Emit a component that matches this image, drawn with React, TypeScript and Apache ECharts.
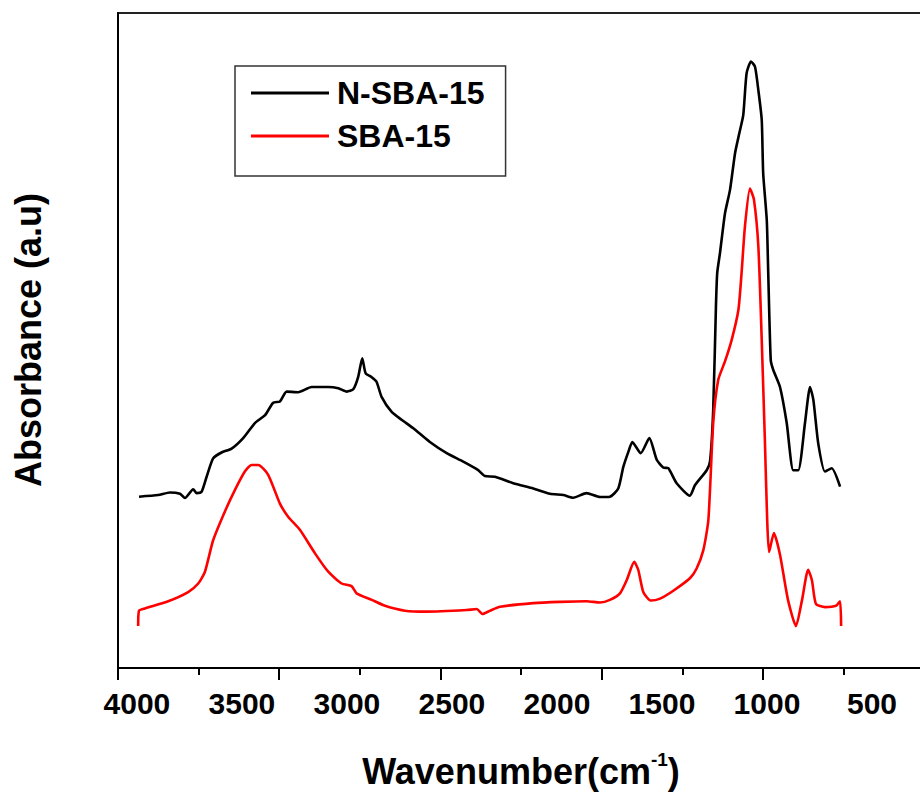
import React, { useEffect, useRef } from "react";
import * as echarts from "echarts";

// N-SBA-15 (black)
const nsbaWavenumber = [3990, 3899, 3843, 3795, 3771, 3732, 3716, 3692, 3668, 3637, 3597, 3549, 3494, 3438, 3390, 3351, 3319, 3287, 3232, 3168, 3089, 3041, 3001, 2970, 2946, 2927, 2911, 2882, 2859, 2835, 2787, 2740, 2684, 2605, 2525, 2446, 2375, 2343, 2295, 2208, 2113, 2033, 1970, 1922, 1859, 1795, 1748, 1708, 1684, 1660, 1641, 1601, 1560, 1525, 1494, 1470, 1430, 1367, 1343, 1287, 1271, 1256, 1243, 1237, 1224, 1200, 1176, 1152, 1132, 1113, 1097, 1076, 1057, 1041, 1025, 1018, 1001, 994, 982, 970, 938, 906, 875, 851, 819, 795, 779, 756, 724, 692, 652];
const nsbaAbsorbance = [26.15, 26.4, 26.8, 26.6, 25.95, 27.3, 26.7, 26.9, 29.2, 32.0, 32.9, 33.5, 35.1, 37.4, 38.6, 40.5, 40.7, 42.2, 42.1, 42.9, 42.9, 42.7, 42.2, 42.55, 44.5, 47.3, 45.0, 44.4, 43.7, 41.4, 39.1, 37.9, 36.6, 34.5, 32.8, 31.5, 30.2, 29.3, 29.2, 28.2, 27.4, 26.6, 26.4, 26.0, 26.7, 26.1, 26.15, 27.4, 30.7, 33.0, 34.5, 32.8, 35.1, 31.8, 30.6, 30.5, 28.2, 26.3, 27.9, 30.2, 31.6, 39.4, 55.2, 60.3, 63.3, 69.4, 73.0, 78.6, 81.6, 84.4, 90.8, 92.6, 91.8, 88.2, 83.7, 75.5, 68.4, 60.3, 47.0, 45.5, 42.9, 37.4, 30.2, 30.2, 37.4, 42.9, 40.9, 34.3, 30.0, 30.5, 27.7];

// SBA-15 (red)
const sbaWavenumber = [3994, 3990, 3962, 3851, 3756, 3708, 3676, 3637, 3581, 3533, 3486, 3454, 3422, 3375, 3319, 3280, 3224, 3152, 3089, 3025, 2978, 2954, 2882, 2819, 2724, 2620, 2430, 2382, 2354, 2319, 2271, 2113, 1986, 1859, 1795, 1748, 1700, 1668, 1632, 1613, 1589, 1554, 1509, 1446, 1367, 1335, 1303, 1279, 1256, 1232, 1200, 1168, 1136, 1121, 1105, 1081, 1062, 1041, 1025, 1010, 999, 990, 967, 938, 900, 862, 833, 804, 786, 767, 724, 671, 652, 647];
const sbaAbsorbance = [6.4, 8.75, 9.1, 10.2, 11.6, 12.9, 14.7, 19.5, 23.9, 27.2, 30.0, 31.0, 31.0, 29.5, 25.1, 23.1, 21.1, 17.5, 14.7, 12.9, 12.5, 11.4, 10.4, 9.5, 8.75, 8.6, 8.85, 9.0, 8.25, 8.75, 9.35, 9.9, 10.1, 10.2, 10.0, 10.4, 11.4, 13.4, 16.2, 15.0, 11.6, 10.3, 10.6, 11.8, 13.7, 15.2, 18.0, 22.6, 37.4, 44.0, 46.8, 50.1, 54.7, 60.3, 67.4, 73.2, 71.5, 64.3, 50.1, 34.8, 22.6, 17.7, 20.6, 17.3, 10.4, 6.4, 10.4, 15.0, 13.4, 9.8, 9.3, 9.5, 10.2, 6.4];

const xTickLabels = [4000, 3500, 3000, 2500, 2000, 1500, 1000, 500];
const seriesNames = ["N-SBA-15", "SBA-15"];

const FONT = '"Liberation Sans", Arial, Helvetica, sans-serif';

export default function App() {
  const ref = useRef<HTMLDivElement>(null);
  useEffect(() => {
    if (!ref.current) return;
    const chart = echarts.init(ref.current, null, { renderer: "svg" });
    const pairs = (xs: number[], ys: number[]) => xs.map((x, i) => [x, ys[i]]);
    chart.setOption({
      animation: false,
      backgroundColor: "#ffffff",
      grid: {
        left: 118,
        top: 13,
        width: 859,
        height: 655,
        show: true,
        borderColor: "#222",
        borderWidth: 2,
        backgroundColor: "transparent",
      },
      legend: {
        orient: "vertical",
        left: 235,
        top: 66,
        data: seriesNames,
        icon: "rect",
        padding: [11, 21, 24, 16],
        itemGap: 11,
        itemWidth: 78,
        itemHeight: 3,
        borderColor: "#333",
        borderWidth: 1.5,
        textStyle: {
          fontFamily: FONT,
          fontWeight: "bold",
          fontSize: 32,
          lineHeight: 32,
          color: "#000",
          padding: [0, 0, 0, 3],
        },
      },
      xAxis: [
        {
          type: "value",
          inverse: true,
          min: 0,
          max: 4090,
          interval: 500,
          position: "bottom",
          axisLine: { show: true, onZero: false, lineStyle: { color: "#000", width: 2 } },
          axisTick: { show: false },
          splitLine: { show: false },
          axisLabel: {
            margin: 20,
            fontFamily: FONT,
            fontWeight: "bold",
            fontSize: 30,
            color: "#000",
            formatter: (v: number) => (xTickLabels.includes(v) ? String(v) : ""),
          },
        },
        {
          type: "value",
          min: 0,
          max: 4090,
          interval: 767.6,
          position: "bottom",
          axisLine: { show: false },
          axisLabel: { show: false },
          splitLine: { show: false },
          axisTick: { show: true, length: 12, lineStyle: { color: "#000", width: 2 } },
          minorTick: { show: true, splitNumber: 2, length: 7, lineStyle: { color: "#000", width: 2 } },
        },
      ],
      yAxis: {
        type: "value",
        min: 0,
        max: 100,
        axisLine: { show: true, onZero: false, lineStyle: { color: "#000", width: 2 } },
        axisTick: { show: false },
        axisLabel: { show: false },
        splitLine: { show: false },
      },
      series: [
        {
          name: seriesNames[0],
          type: "line",
          xAxisIndex: 0,
          data: pairs(nsbaWavenumber, nsbaAbsorbance),
          symbol: "none",
          showSymbol: false,
          smooth: 0.2,
          lineStyle: { color: "#000", width: 2.6 },
          itemStyle: { color: "#000" },
        },
        {
          name: seriesNames[1],
          type: "line",
          xAxisIndex: 0,
          data: pairs(sbaWavenumber, sbaAbsorbance),
          symbol: "none",
          showSymbol: false,
          smooth: 0.2,
          lineStyle: { color: "#ff0000", width: 2.6 },
          itemStyle: { color: "#ff0000" },
        },
      ],
      graphic: [
        {
          type: "text",
          x: 521,
          y: 750,
          style: {
            text: "{n|Wavenumber(cm}{s|-1}{n|)}",
            align: "center",
            rich: {
              n: { fontFamily: FONT, fontWeight: "bold", fontSize: 36, lineHeight: 42, fill: "#000" },
              s: { fontFamily: FONT, fontWeight: "bold", fontSize: 19, lineHeight: 19, verticalAlign: "top", fill: "#000" },
            },
          },
        },
        {
          type: "text",
          x: 28,
          y: 340,
          rotation: Math.PI / 2,
          style: {
            text: "Absorbance (a.u)",
            fontFamily: FONT,
            fontWeight: "bold",
            fontSize: 36,
            fill: "#000",
            align: "center",
            verticalAlign: "middle",
          },
        },
      ],
    });
    return () => chart.dispose();
  }, []);
  return (
    <div
      ref={ref}
      style={{ position: "fixed", left: 0, top: 0, width: 1000, height: 800, background: "#fff" }}
    />
  );
}
